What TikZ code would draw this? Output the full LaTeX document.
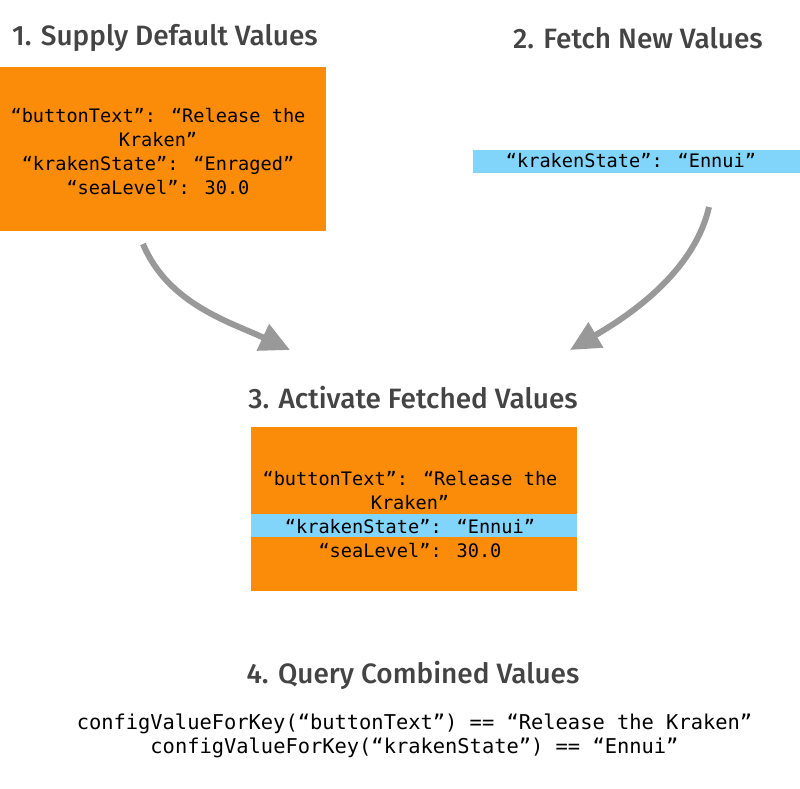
\documentclass[tikz,border=0pt]{standalone}
\usepackage{fontspec}
\usetikzlibrary{positioning,arrows.meta}
\newfontfamily\headfont{Fira Sans Medium}
\newfontfamily\codefont{DejaVu Sans Mono}
\definecolor{kOrange}{HTML}{FB8C0A}
\definecolor{kBlue}{HTML}{81D4FA}
\definecolor{kHead}{HTML}{444444}
\definecolor{kArrow}{HTML}{999999}
\tikzset{
  head/.style  = {font=\headfont\fontsize{28}{32}\selectfont, text=kHead, inner sep=0pt},
  obox/.style  = {fill=kOrange, minimum width=326pt, minimum height=164pt, inner sep=0pt},
  band/.style  = {fill=kBlue, minimum height=23pt, inner sep=0pt},
  code/.style  = {font=\codefont\fontsize{18.6}{24}\selectfont, align=center, inner sep=0pt},
  qline/.style = {font=\codefont\fontsize{20.4}{24}\selectfont, inner sep=0pt},
  flow/.style  = {draw=kArrow, line width=6pt, -{Triangle[length=30pt, width=28pt]}},
}
\begin{document}
\begin{tikzpicture}[x=1pt, y=-1pt]
  \useasboundingbox (0,0) rectangle (800,789);
  % step 1: defaults
  \node[head] (h1) at (165,38) {1. Supply Default Values};
  \node[obox] (dflt) at (162.5,149) {};
  \node[code] (dflttxt) at (158,152) {“buttonText”: “Release the\\Kraken”\\“krakenState”: “Enraged”\\“seaLevel”: 30.0};
  % step 2: fetched
  \node[head] (h2) at (638,38) {2. Fetch New Values};
  \node[band, minimum width=327pt] (fetch) at (636.5,161) {};
  \node[code] (fetchtxt) at (631,161) {“krakenState”: “Ennui”};
  % step 3: active
  \node[head] (h3) at (413,398) {3. Activate Fetched Values};
  \node[obox] (act) at (414,509) {};
  \node[band, minimum width=326pt] (actband) at (414,525.5) {};
  \node[code] (acttxt) at (410,515) {“buttonText”: “Release the\\Kraken”\\“krakenState”: “Ennui”\\“seaLevel”: 30.0};
  % arrows into step 3
  \coordinate (a1s) at (143,244);
  \coordinate (a1e) at (290,350);
  \coordinate (a2s) at (709,207);
  \coordinate (a2e) at (570,350);
  \draw[flow] (a1s) .. controls +(25,60) and +(-60,-28) .. (a1e);
  \draw[flow] (a2s) .. controls +(-15,65) and +(60,-35) .. (a2e);
  % step 4: query
  \node[head] (h4) at (413,675) {4. Query Combined Values};
  \node[qline] (q1) at (414.5,724) {configValueForKey(“buttonText”) == “Release the Kraken”};
  \node[qline] (q2) at (414.5,748) {configValueForKey(“krakenState”) == “Ennui”};
\end{tikzpicture}
\end{document}
